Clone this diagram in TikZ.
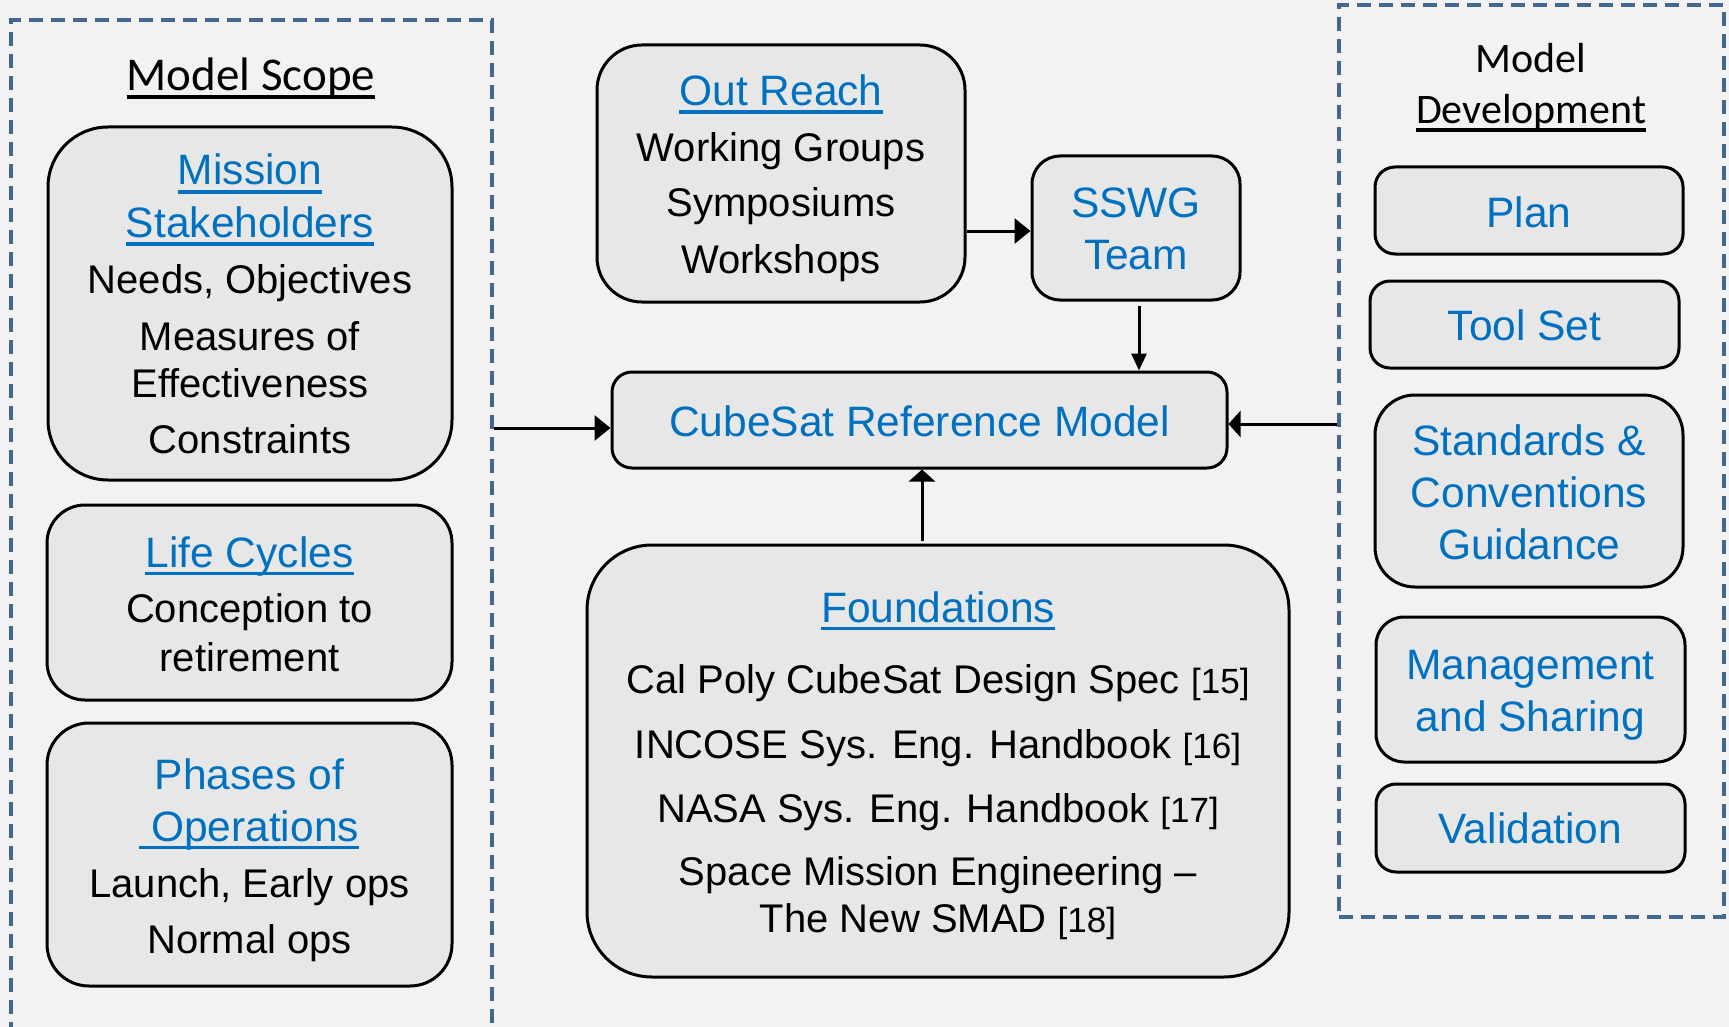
\documentclass[tikz,border=0pt]{standalone}
\usepackage{fontspec}
\setmainfont{Liberation Sans}
\newfontfamily\calfont{Carlito}
\usetikzlibrary{arrows.meta}
\definecolor{bg}{HTML}{F2F2F2}
\definecolor{boxfill}{HTML}{E7E7E7}
\definecolor{lblue}{HTML}{0070C0}
\definecolor{dashc}{HTML}{44678F}
\newcommand\refsz[1]{{\fontsize{35}{40}\selectfont #1}}
\begin{document}
\begin{tikzpicture}[x=1pt,y=-1pt,
  box/.style={draw=black, line width=3pt, fill=boxfill, inner sep=0pt, rectangle},
  frame/.style={draw=dashc, line width=3.3pt, dash pattern=on 14pt off 8pt, inner sep=0pt, rectangle},
  body/.style={anchor=base, inner sep=0pt, font=\fontsize{40}{48}\selectfont, text=black},
  ttl/.style={anchor=base, inner sep=0pt, font=\fontsize{42.5}{50}\selectfont, text=lblue},
  head/.style={anchor=base, inner sep=0pt, text=black},
  ul/.style={draw=lblue, line width=3.3pt},
  kul/.style={draw=black, line width=3.3pt},
  arr/.style={draw=black, line width=3pt, -{Triangle[length=16pt,width=25pt]}},
  arrnarrow/.style={draw=black, line width=3pt, -{Triangle[length=17pt,width=15pt]}},
  arrshort/.style={draw=black, line width=3pt, -{Triangle[length=12pt,width=26pt]}},
]
\path[use as bounding box] (0,0) rectangle (1729,1027);
\clip (0,0) rectangle (1729,1027);
\fill[bg] (0,0) rectangle (1729,1027);

% frames
\node[frame, minimum width=481pt, minimum height=1050pt] (scope) at (251.5,545) {};
\node[frame, minimum width=385pt, minimum height=912pt] (dev) at (1531.5,461) {};

% headings
\node[head, font=\calfont\fontsize{47}{56}\selectfont] (mst) at (251,91) {Model Scope};
\draw[kul] ([yshift=-6pt]mst.base west) -- ([yshift=-6pt]mst.base east);
\node[head, font=\calfont\fontsize{42}{50}\selectfont] (md1) at (1531,73) {Model};
\node[head, font=\calfont\fontsize{42}{50}\selectfont] (md2) at (1531,124) {Development};
\draw[kul] ([yshift=-6pt]md2.base west) -- ([yshift=-6pt]md2.base east);

% left boxes
\node[box, minimum width=404pt, minimum height=353pt, rounded corners=60pt] (ms) at (250,303.5) {};
\node[ttl] (ms1) at (250,185) {Mission};
\draw[ul] ([yshift=-7pt]ms1.base west) -- ([yshift=-7pt]ms1.base east);
\node[ttl] (ms2) at (250,237) {Stakeholders};
\draw[ul] ([yshift=-7pt]ms2.base west) -- ([yshift=-7pt]ms2.base east);
\node[body] (ms3) at (250,293) {Needs, Objectives};
\node[body] (ms4) at (250,350) {Measures of};
\node[body] (ms5) at (250,397) {Effectiveness};
\node[body] (ms6) at (250,453) {Constraints};

\node[box, minimum width=405pt, minimum height=195pt, rounded corners=38pt] (lc) at (249.5,602.5) {};
\node[ttl] (lc1) at (249.5,567) {Life Cycles};
\draw[ul] ([yshift=-6.5pt]lc1.base west) -- ([yshift=-6.5pt]lc1.base east);
\node[body] (lc2) at (249.5,622) {Conception to};
\node[body] (lc3) at (249.5,671) {retirement};

\node[box, minimum width=405pt, minimum height=263pt, rounded corners=42pt] (po) at (249.5,854.5) {};
\node[ttl] (po1) at (249.5,789) {Phases of};
\node[ttl] (po2) at (255,841) {Operations};
\draw[ul] ([xshift=-12pt,yshift=-6.5pt]po2.base west) -- ([yshift=-6.5pt]po2.base east);
\node[body] (po3) at (249.5,897) {Launch, Early ops};
\node[body] (po4) at (249.5,953) {Normal ops};

% centre
\node[box, minimum width=368pt, minimum height=257pt, rounded corners=45pt] (or) at (781,173.5) {};
\node[ttl] (or1) at (781,106) {Out Reach};
\draw[ul] ([yshift=-6pt]or1.base west) -- ([yshift=-6pt]or1.base east);
\node[body] (or2) at (781,162) {Working Groups};
\node[body] (or3) at (781,217) {Symposiums};
\node[body] (or4) at (781,273) {Workshops};

\node[box, minimum width=208pt, minimum height=144pt, rounded corners=28pt] (sswg) at (1136,228) {};
\node[ttl] (sw1) at (1136,218) {SSWG};
\node[ttl] (sw2) at (1136,269) {Team};

\node[box, minimum width=615pt, minimum height=96pt, rounded corners=20pt] (cube) at (919.5,420) {};
\node[ttl] (cb1) at (919.5,436) {CubeSat Reference Model};

\node[box, minimum width=702pt, minimum height=432pt, rounded corners=65pt] (found) at (938,761) {};
\node[ttl] (fd1) at (938,622) {Foundations};
\draw[ul] ([yshift=-6.5pt]fd1.base west) -- ([yshift=-6.5pt]fd1.base east);
\node[body] (fd2) at (938,693) {Cal Poly CubeSat Design Spec \refsz{[15]}};
\node[body] (fd3) at (938,758) {INCOSE Sys. Eng. Handbook \refsz{[16]}};
\node[body] (fd4) at (938,822) {NASA Sys. Eng. Handbook \refsz{[17]}};
\node[body] (fd5) at (938,885) {Space Mission Engineering –};
\node[body] (fd6) at (938,932) {The New SMAD \refsz{[18]}};

% right boxes
\node[box, minimum width=308pt, minimum height=87pt, rounded corners=20pt] (plan) at (1529,210.5) {};
\node[ttl] (pl1) at (1529,227) {Plan};
\node[box, minimum width=309pt, minimum height=87pt, rounded corners=20pt] (tool) at (1524.5,324.5) {};
\node[ttl] (tl1) at (1524.5,340) {Tool Set};
\node[box, minimum width=308pt, minimum height=192pt, rounded corners=40pt] (std) at (1529,491) {};
\node[ttl] (sd1) at (1529,455) {Standards \&};
\node[ttl] (sd2) at (1529,507) {Conventions};
\node[ttl] (sd3) at (1529,559) {Guidance};
\node[box, minimum width=309pt, minimum height=145pt, rounded corners=28pt] (mgmt) at (1530.5,689.5) {};
\node[ttl] (mg1) at (1530.5,679) {Management};
\node[ttl] (mg2) at (1530.5,731) {and Sharing};
\node[box, minimum width=309pt, minimum height=88pt, rounded corners=20pt] (valid) at (1530.5,828) {};
\node[ttl] (vl1) at (1530.5,843) {Validation};

% connectors
\draw[arr] ([yshift=-3pt]or.east |- sswg.west) -- ([yshift=-3pt]sswg.west);
\draw[arrnarrow] ([xshift=3pt,yshift=-4pt]sswg.south) -- ([xshift=3pt]sswg.south |- cube.north);
\draw[arr] ([yshift=-8pt]scope.east |- cube.west) -- ([yshift=-8pt]cube.west);
\draw[arrshort] ([yshift=-4pt]dev.west |- cube.east) -- ([yshift=-4pt]cube.east);
\draw[arrshort] ([xshift=-16pt,yshift=3pt]found.north) -- ([xshift=-16pt]found.north |- cube.south);
\end{tikzpicture}
\end{document}
